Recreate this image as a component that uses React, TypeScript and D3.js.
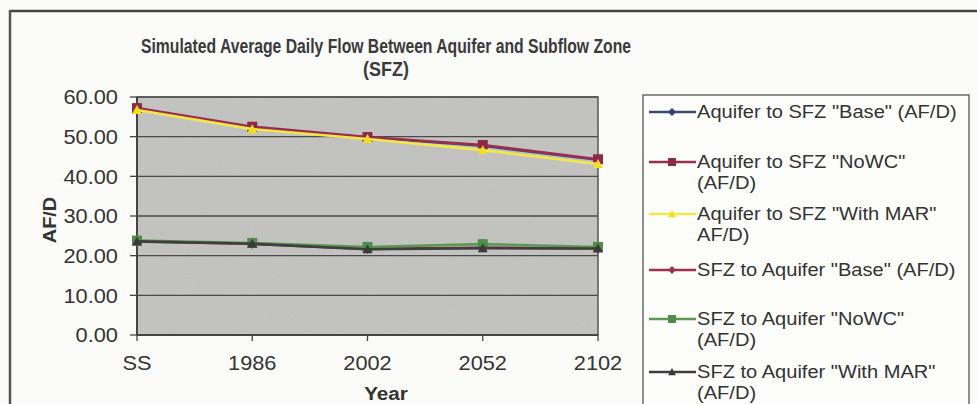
import { useMemo } from "react";
import * as d3 from "d3";

const W = 977;
const H = 404;

const years = ["SS", "1986", "2002", "2052", "2102"];
const yTicks = [0, 10, 20, 30, 40, 50, 60];

// Aquifer to SFZ
const aqBase = [57.0, 52.3, 49.8, 47.7, 44.2];
const aqNoWC = [57.2, 52.5, 49.9, 47.9, 44.3];
const aqMAR = [56.7, 51.9, 49.4, 46.6, 43.1];
// SFZ to Aquifer
const sfzBase = [23.6, 23.0, 21.7, 22.0, 21.8];
const sfzNoWC = [23.8, 23.2, 22.2, 22.9, 22.2];
const sfzMAR = [23.6, 23.0, 21.6, 21.9, 21.8];

type Series = {
  name: string[];
  values: number[];
  color: string;
  marker: "diamond" | "square" | "triangle";
  markerColor: string;
};

const series: Series[] = [
  { name: ["Aquifer to SFZ \"Base\" (AF/D)"], values: aqBase, color: "#3b4a78", marker: "diamond", markerColor: "#2f3f80" },
  { name: ["Aquifer to SFZ \"NoWC\"", "(AF/D)"], values: aqNoWC, color: "#9a2e4c", marker: "square", markerColor: "#8e2a48" },
  { name: ["Aquifer to SFZ \"With MAR\"", "AF/D)"], values: aqMAR, color: "#f2e84a", marker: "triangle", markerColor: "#f0e020" },
  { name: ["SFZ to Aquifer \"Base\" (AF/D)"], values: sfzBase, color: "#a0304c", marker: "diamond", markerColor: "#a03050" },
  { name: ["SFZ to Aquifer \"NoWC\"", "(AF/D)"], values: sfzNoWC, color: "#5a9a50", marker: "square", markerColor: "#4e8e48" },
  { name: ["SFZ to Aquifer \"With MAR\"", "(AF/D)"], values: sfzMAR, color: "#3e3e3e", marker: "triangle", markerColor: "#3a3a3a" },
];

const legendY = [112, 162, 214, 270, 319, 372];

const FONT = "Arial, 'Liberation Sans', sans-serif";
const SX = 1.09; // scan is a bit wider than the glyphs

const Marker = ({ kind, x, y, color, s }: { kind: string; x: number; y: number; color: string; s: number }) => {
  if (kind === "square") {
    return <rect x={x - s} y={y - s} width={s * 2} height={s * 2} fill={color} />;
  }
  if (kind === "diamond") {
    return <path d={`M${x},${y - s}L${x + s},${y}L${x},${y + s}L${x - s},${y}Z`} fill={color} />;
  }
  return <path d={`M${x},${y - s}L${x + s},${y + s * 0.8}L${x - s},${y + s * 0.8}Z`} fill={color} />;
};

const Txt = ({ x, y, children, sx = SX, ...rest }: any) => (
  <text transform={`translate(${x},${y}) scale(${sx},1)`} {...rest}>
    {children}
  </text>
);

export default function App() {
  const left = 137;
  const right = 598;
  const top = 97;
  const bottom = 335;

  const x = useMemo(() => d3.scalePoint<string>().domain(years).range([left, right]), []);
  const y = useMemo(() => d3.scaleLinear().domain([0, 60]).range([bottom, top]), []);

  const line = d3
    .line<number>()
    .x((_, i) => x(years[i]) as number)
    .y((d) => y(d));

  return (
    <div style={{ position: "absolute", left: 0, top: 0 }}>
      <svg width={W} height={H} style={{ display: "block", background: "#fbfbfa" }} fontFamily={FONT}>
        <defs>
          <filter id="grain" x="0" y="0" width="100%" height="100%">
            <feTurbulence type="fractalNoise" baseFrequency="0.9" numOctaves={2} seed={3} />
            <feColorMatrix type="matrix" values="0 0 0 0 0.5  0 0 0 0 0.5  0 0 0 0 0.5  0 0 0 0.18 0" />
            <feComposite in2="SourceGraphic" operator="in" />
            <feBlend in2="SourceGraphic" mode="multiply" />
          </filter>
        </defs>

        {/* outer frame */}
        <line x1={10} x2={W} y1={11} y2={11} stroke="#444" strokeWidth={2.5} />
        <line x1={10} x2={10} y1={10} y2={H} stroke="#555" strokeWidth={2.5} />

        {/* title */}
        <text x={386} y={53} textAnchor="middle" fontSize={20} fontWeight="bold" fill="#3a3a3a" textLength={490} lengthAdjust="spacingAndGlyphs">
          Simulated Average Daily Flow Between Aquifer and Subflow Zone
        </text>
        <Txt x={386} y={76} sx={0.9} textAnchor="middle" fontSize={20} fontWeight="bold" fill="#3a3a3a">
          (SFZ)
        </Txt>

        {/* plot area */}
        <rect x={left} y={top} width={right - left} height={bottom - top} fill="#c6c6c4" filter="url(#grain)" />

        {/* gridlines + y ticks */}
        {yTicks.map((t) => (
          <g key={t}>
            <line x1={left} x2={right} y1={y(t)} y2={y(t)} stroke="#4a4a4a" strokeWidth={1.3} />
            <line x1={left - 7} x2={left} y1={y(t)} y2={y(t)} stroke="#444" strokeWidth={1.3} />
            <Txt x={left - 19} y={y(t)} textAnchor="end" dominantBaseline="central" fontSize={20} fill="#333">
              {t.toFixed(2)}
            </Txt>
          </g>
        ))}
        <rect x={left} y={top} width={right - left} height={bottom - top} fill="none" stroke="#555" strokeWidth={1.5} />
        <line x1={left} x2={left} y1={top} y2={bottom} stroke="#444" strokeWidth={2} />
        <line x1={left} x2={right} y1={bottom} y2={bottom} stroke="#444" strokeWidth={2} />

        {/* x ticks */}
        {years.map((yr) => (
          <g key={yr}>
            <line x1={x(yr)} x2={x(yr)} y1={bottom} y2={bottom + 6} stroke="#444" strokeWidth={1.3} />
            <Txt x={x(yr)} y={363} textAnchor="middle" dominantBaseline="central" fontSize={20} fill="#333">
              {yr}
            </Txt>
          </g>
        ))}

        <Txt x={386} y={393} textAnchor="middle" dominantBaseline="central" fontSize={19} fontWeight="bold" fill="#333">
          Year
        </Txt>
        <text
          transform={`translate(49,220) rotate(-90) scale(1.05,1)`}
          textAnchor="middle"
          dominantBaseline="central"
          fontSize={19}
          fontWeight="bold"
          fill="#333"
        >
          AF/D
        </text>

        {/* series */}
        {series.map((s) => (
          <g key={s.name.join(" ")}>
            <path d={line(s.values) ?? ""} fill="none" stroke={s.color} strokeWidth={2.6} />
            {s.values.map((v, i) => (
              <Marker key={i} kind={s.marker} x={x(years[i]) as number} y={y(v)} color={s.markerColor} s={5} />
            ))}
          </g>
        ))}

        {/* legend */}
        <rect x={643} y={95} width={326} height={H} fill="#fdfdfc" stroke="#555" strokeWidth={1.3} />
        {series.map((s, i) => (
          <g key={i}>
            <line x1={649} x2={696} y1={legendY[i]} y2={legendY[i]} stroke={s.color} strokeWidth={2.4} />
            <Marker kind={s.marker} x={672} y={legendY[i]} color={s.markerColor} s={4} />
            {s.name.map((n, j) => (
              <Txt key={j} x={697} y={legendY[i] + j * 21} sx={1.085} dominantBaseline="central" fontSize={18.5} fill="#333">
                {n}
              </Txt>
            ))}
          </g>
        ))}
      </svg>
    </div>
  );
}
